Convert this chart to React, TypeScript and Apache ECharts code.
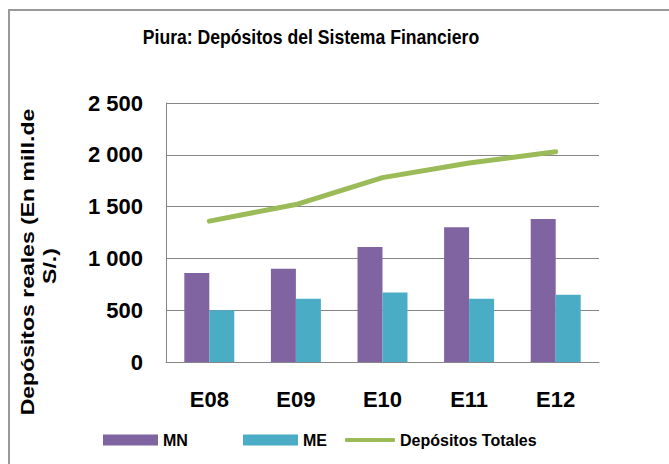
import React, { useEffect, useRef } from "react";
import * as echarts from "echarts";

const categories = ["E08", "E09", "E10", "E11", "E12"];
const mnValues = [860, 900, 1110, 1300, 1380];
const meValues = [500, 610, 670, 611, 650];
const totalValues = [1360, 1520, 1780, 1920, 2030];
const yTicks = { min: 0, max: 2500, interval: 500 };

const SANS = '"Liberation Sans", Arial, sans-serif';

export default function App() {
  const ref = useRef<HTMLDivElement>(null);
  useEffect(() => {
    if (!ref.current) return;
    const chart = echarts.init(ref.current, undefined, { renderer: "svg" });
    const fmt = (v: number) =>
      v >= 1000 ? `${Math.floor(v / 1000)} ${String(v % 1000).padStart(3, "0")}` : String(v);
    const legendText = { fontFamily: SANS, fontWeight: "bold", fontSize: 16, color: "#000" };
    chart.setOption({
      animation: false,
      backgroundColor: "#ffffff",
      grid: { left: 166, top: 103, right: 70, bottom: 102 },
      xAxis: {
        type: "category",
        data: categories,
        axisLine: { lineStyle: { color: "#868686", width: 1 } },
        axisTick: { show: false },
        axisLabel: { fontFamily: SANS, fontWeight: "bold", fontSize: 22, color: "#000", margin: 26 },
      },
      yAxis: {
        type: "value",
        min: yTicks.min,
        max: yTicks.max,
        interval: yTicks.interval,
        axisLine: { show: true, lineStyle: { color: "#868686", width: 1 } },
        axisTick: { show: false },
        splitLine: { lineStyle: { color: "#868686", width: 1 } },
        axisLabel: {
          fontFamily: SANS,
          fontWeight: "bold",
          fontSize: 22,
          color: "#000",
          margin: 23,
          formatter: fmt,
        },
      },
      legend: [
        {
          data: ["MN"],
          left: 103,
          top: 432,
          padding: 0,
          itemWidth: 55,
          itemHeight: 11,
          icon: "rect",
          textStyle: legendText,
        },
        {
          data: ["ME"],
          left: 243,
          top: 432,
          padding: 0,
          itemWidth: 55,
          itemHeight: 11,
          icon: "rect",
          textStyle: legendText,
        },
        {
          data: ["Depósitos Totales"],
          left: 345,
          top: 432,
          padding: 0,
          itemWidth: 50,
          itemHeight: 4,
          icon: "roundRect",
          textStyle: legendText,
        },
      ],
      graphic: [
        {
          type: "rect",
          shape: { x: 9, y: 10, width: 800, height: 600 },
          style: { fill: "none", stroke: "#999999", lineWidth: 2 },
          silent: true,
        },
        {
          type: "text",
          x: 311,
          y: 37,
          scaleX: 0.88,
          style: {
            text: "Piura: Depósitos del Sistema Financiero",
            fontFamily: SANS,
            fontWeight: "bold",
            fontSize: 20,
            fill: "#000",
            align: "center",
            verticalAlign: "middle",
          },
        },
        {
          type: "text",
          x: 27,
          y: 262,
          rotation: Math.PI / 2,
          scaleY: 0.8,
          style: {
            text: "Depósitos reales (En mill.de",
            fontFamily: SANS,
            fontWeight: "bold",
            fontSize: 23,
            fill: "#000",
            align: "center",
            verticalAlign: "middle",
          },
        },
        {
          type: "text",
          x: 49,
          y: 266,
          rotation: Math.PI / 2,
          scaleY: 0.8,
          style: {
            text: "S/.)",
            fontFamily: SANS,
            fontWeight: "bold",
            fontSize: 23,
            fill: "#000",
            align: "center",
            verticalAlign: "middle",
          },
        },
      ],
      series: [
        {
          name: "MN",
          type: "bar",
          data: mnValues,
          barWidth: 25,
          barGap: "0%",
          itemStyle: { color: "#8064A2" },
        },
        {
          name: "ME",
          type: "bar",
          data: meValues,
          barWidth: 25,
          barGap: "0%",
          itemStyle: { color: "#4BACC6" },
        },
        {
          name: "Depósitos Totales",
          type: "line",
          data: totalValues,
          symbol: "none",
          lineStyle: { color: "#9BBB59", width: 5, cap: "round", join: "round" },
          itemStyle: { color: "#9BBB59" },
        },
      ],
    });
    return () => chart.dispose();
  }, []);
  return (
    <div
      ref={ref}
      style={{ position: "absolute", left: 0, top: 0, width: 669, height: 464 }}
    />
  );
}
